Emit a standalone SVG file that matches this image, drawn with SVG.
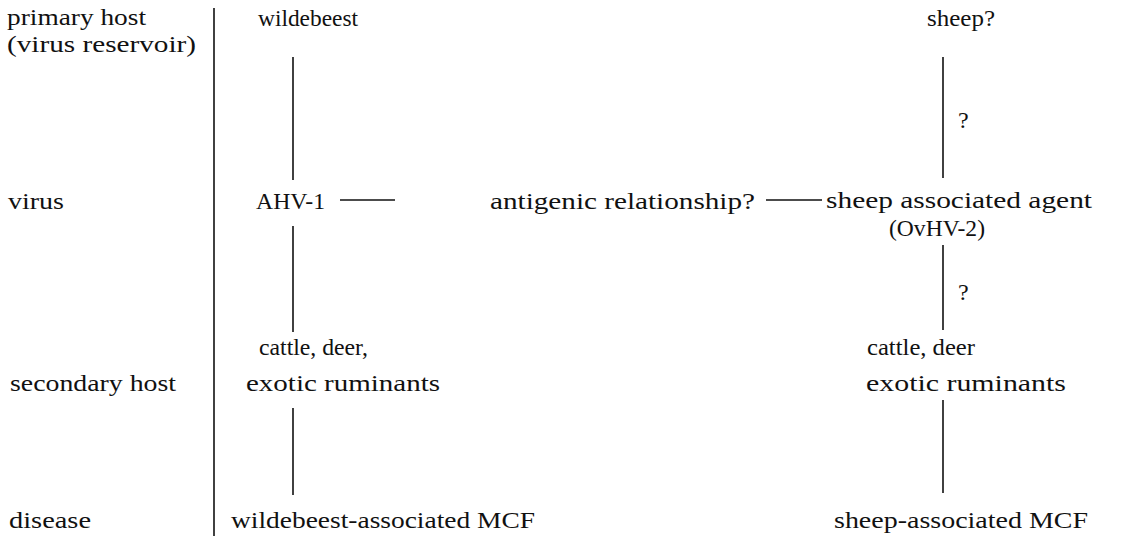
<svg xmlns="http://www.w3.org/2000/svg" width="1128" height="536" viewBox="0 0 1128 536">
<style>
.t{font-family:'Liberation Serif','Times New Roman',Times,'DejaVu Serif',serif;font-size:24px;fill:#111}
.ln{stroke:#111;stroke-width:1.6;fill:none}
</style>
<rect width="1128" height="536" fill="#fff"/>
<g class="t" font-family="Liberation Serif, serif">
<g id="row-labels">
<text x="7" y="25" textLength="139" lengthAdjust="spacingAndGlyphs">primary host</text>
<text x="7" y="52" textLength="189" lengthAdjust="spacingAndGlyphs">(virus reservoir)</text>
<text x="8" y="209" textLength="56" lengthAdjust="spacingAndGlyphs">virus</text>
<text x="10" y="391" textLength="166" lengthAdjust="spacingAndGlyphs">secondary host</text>
<text x="9" y="528" textLength="82" lengthAdjust="spacingAndGlyphs">disease</text>
</g>
<g id="wildebeest"><text x="258" y="26" textLength="100" lengthAdjust="spacingAndGlyphs">wildebeest</text></g>
<g id="ahv1"><text x="256" y="209" textLength="69" lengthAdjust="spacingAndGlyphs">AHV-1</text></g>
<g id="antigenic"><text x="490" y="209" textLength="265" lengthAdjust="spacingAndGlyphs">antigenic relationship?</text></g>
<g id="sheep-agent">
<text x="826" y="208" textLength="266" lengthAdjust="spacingAndGlyphs">sheep associated agent</text>
<text x="889" y="236" textLength="96" lengthAdjust="spacingAndGlyphs">(OvHV-2)</text>
</g>
<g id="sheep"><text x="927" y="26" textLength="68" lengthAdjust="spacingAndGlyphs">sheep?</text></g>
<g id="secondary-left">
<text x="259" y="355" textLength="109" lengthAdjust="spacingAndGlyphs">cattle, deer,</text>
<text x="246" y="391" textLength="194" lengthAdjust="spacingAndGlyphs">exotic ruminants</text>
</g>
<g id="secondary-right">
<text x="867" y="355" textLength="108" lengthAdjust="spacingAndGlyphs">cattle, deer</text>
<text x="866" y="391" textLength="200" lengthAdjust="spacingAndGlyphs">exotic ruminants</text>
</g>
<g id="mcf-left"><text x="231" y="528" textLength="304" lengthAdjust="spacingAndGlyphs">wildebeest-associated MCF</text></g>
<g id="mcf-right"><text x="834" y="528" textLength="254" lengthAdjust="spacingAndGlyphs">sheep-associated MCF</text></g>
</g>
<g id="divider"><line class="ln" x1="214" y1="8" x2="214" y2="536"/></g>
<g id="connectors">
<line class="ln" x1="293" y1="57" x2="293" y2="180"/>
<line class="ln" x1="293" y1="226" x2="293" y2="332"/>
<line class="ln" x1="293" y1="408" x2="293" y2="495"/>
<line class="ln" x1="340" y1="200" x2="395" y2="200"/>
<line class="ln" x1="766" y1="200" x2="822" y2="200"/>
<line class="ln" x1="943" y1="57" x2="943" y2="178"/>
<line class="ln" x1="943" y1="245" x2="943" y2="330"/>
<line class="ln" x1="943" y1="400" x2="943" y2="493"/>
<g class="t"><text x="958" y="128">?</text>
<text x="958" y="300">?</text></g>
</g>
</svg>
